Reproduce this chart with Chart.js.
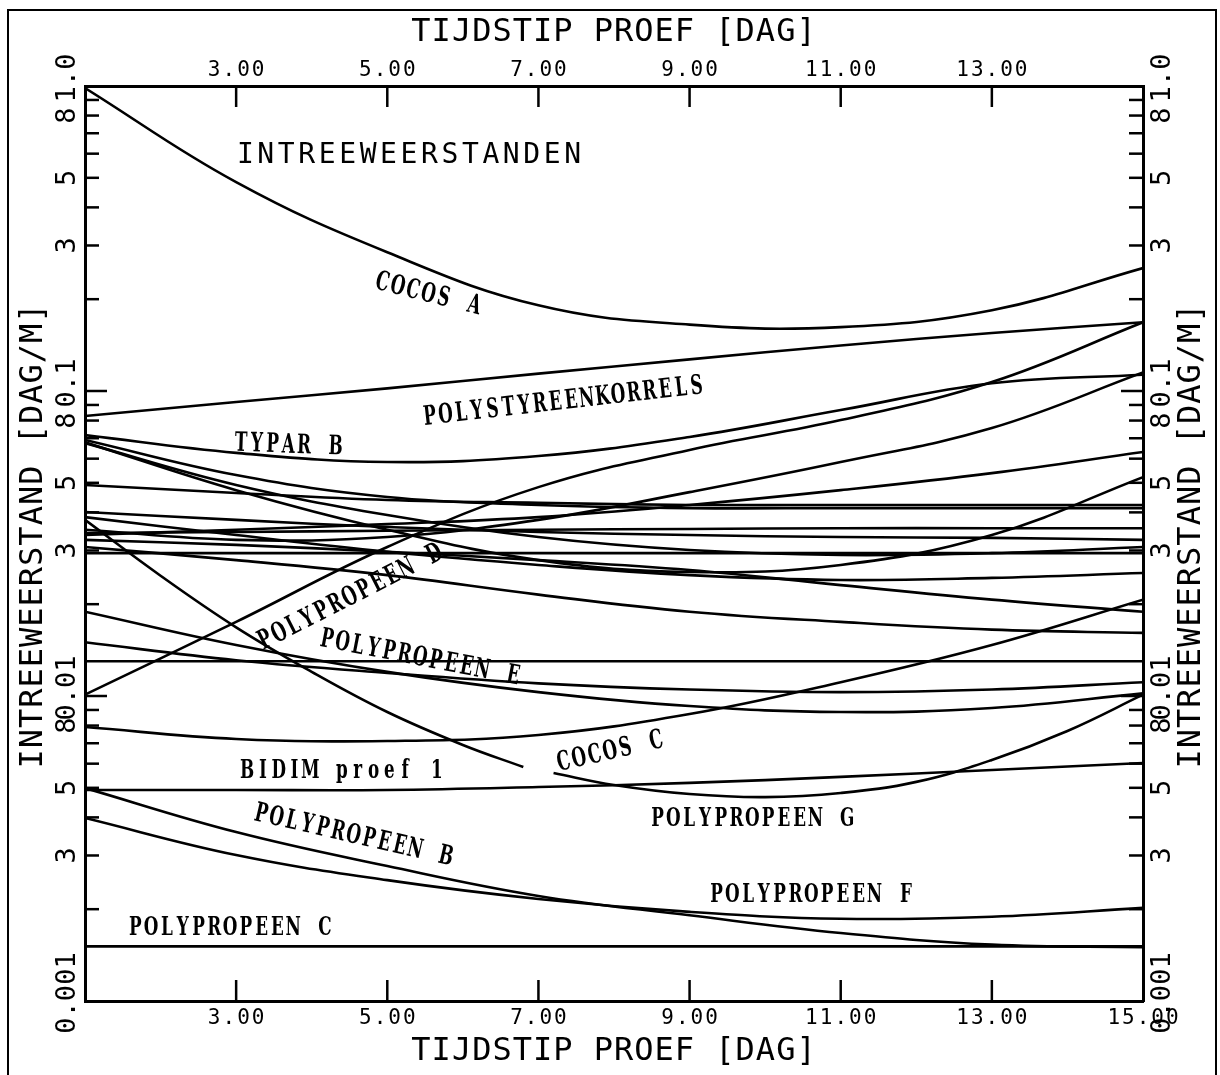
<!DOCTYPE html>
<html lang="nl">
<head>
<meta charset="UTF-8" />
<script src="https://cdn.jsdelivr.net/npm/chart.js@4.4.1/dist/chart.umd.min.js"></script>
<style>
  html, body { margin: 0; padding: 0; background: #fff; }
</style>
</head>
<body>
<canvas id="myChart" width="1220" height="1075"></canvas>
<script>
const days = [1, 3, 5, 7, 9, 11, 13, 15];
const daysCocosC = [1, 2, 3, 4, 5, 6, 6.8];      // test stops just before day 7
const daysPolyG = [7.2, 8, 9, 10, 11, 12, 13, 14, 15];

// intreeweerstand [dag/m]
const cocosA       = [0.985, 0.484, 0.285, 0.191, 0.165, 0.162, 0.184, 0.253];
const polystyreen  = [0.0828, 0.092, 0.102, 0.114, 0.127, 0.141, 0.155, 0.168];
const typarB       = [0.0717, 0.0627, 0.0585, 0.0612, 0.0707, 0.0866, 0.106, 0.113];
const polypropeenD = [0.0101, 0.0175, 0.0308, 0.0484, 0.0641, 0.0803, 0.107, 0.168];
const polypropeenE = [0.0189, 0.0147, 0.012, 0.0103, 0.00927, 0.00886, 0.00913, 0.0102];
const cocosC       = [0.0378, 0.0248, 0.0168, 0.012, 0.00886, 0.00691, 0.00585];
const polypropeenG = [0.00559, 0.00511, 0.00477, 0.00466, 0.00481, 0.00523, 0.00617, 0.00768, 0.0101];
const bidim1       = [0.00492, 0.00492, 0.00492, 0.00503, 0.00519, 0.00543, 0.00572, 0.00603];
const polypropeenB = [0.00499, 0.00358, 0.00277, 0.00221, 0.00191, 0.00167, 0.00153, 0.0015];
const polypropeenF = [0.00398, 0.00301, 0.00249, 0.00216, 0.00196, 0.00186, 0.00189, 0.00202];
const polypropeenC = [0.00151, 0.00151, 0.00151, 0.00151, 0.00151, 0.00151, 0.00151, 0.00151];
// curves without a label
const lijn01 = [0.013, 0.013, 0.013, 0.013, 0.013, 0.013, 0.013, 0.013];
const lijn02 = [0.00791, 0.00723, 0.00712, 0.00745, 0.00873, 0.0111, 0.0147, 0.0207];
const lijn03 = [0.015, 0.0131, 0.0119, 0.011, 0.0105, 0.0103, 0.0105, 0.0111];
const lijn04 = [0.0351, 0.0325, 0.0332, 0.0378, 0.0466, 0.0585, 0.0756, 0.115];
const lijn05 = [0.0691, 0.053, 0.0449, 0.0423, 0.0413, 0.0413, 0.0413, 0.0413];
const lijn06 = [0.0675, 0.0492, 0.0392, 0.0332, 0.0301, 0.029, 0.0294, 0.0308];
const lijn07 = [0.0492, 0.0463, 0.0439, 0.043, 0.0423, 0.0423, 0.0423, 0.0423];
const lijn08 = [0.0679, 0.0473, 0.0351, 0.0279, 0.0255, 0.0269, 0.0337, 0.0522];
const lijn09 = [0.0401, 0.0378, 0.0358, 0.0345, 0.0337, 0.0332, 0.033, 0.0325];
const lijn10 = [0.0386, 0.0337, 0.0297, 0.0269, 0.0249, 0.024, 0.0244, 0.0253];
const lijn11 = [0.0342, 0.0345, 0.0348, 0.0351, 0.0353, 0.0355, 0.0355, 0.0355];
const lijn12 = [0.0325, 0.0313, 0.0297, 0.0279, 0.0259, 0.0231, 0.0207, 0.0189];
const lijn13 = [0.0308, 0.0279, 0.0249, 0.0215, 0.0189, 0.0175, 0.0165, 0.0161];
const lijn14 = [0.0294, 0.0294, 0.0294, 0.0294, 0.0294, 0.0294, 0.0294, 0.0294];
const lijn15 = [0.0337, 0.0351, 0.0366, 0.0386, 0.0423, 0.0473, 0.0538, 0.0631];

// axis ticks
const xTickValues = [1, 3, 5, 7, 9, 11, 13, 15];
const xTickLabelsBottom = ["", "3.00", "5.00", "7.00", "9.00", "11.00", "13.00", "15.00"];
const xTickLabelsTop = ["", "3.00", "5.00", "7.00", "9.00", "11.00", "13.00", ""];
const yDecades = [0.001, 0.01, 0.1, 1.0];
const yDecadeLabels = ["0.001", "0.01", "0.1", "1.0"];
const yMinorSteps = [2, 3, 4, 5, 6, 7, 8, 9];
const yMinorLabels = ["", "3", "", "5", "", "", "8", ""];

// curve names written in the plot: [text, day, value, angle in degrees]
const curveLabels = [
  ["COCOS A", 5.54, 0.207, 14],
  ["POLYSTYREENKORRELS", 7.33, 0.092, -6.5],
  ["TYPAR B", 3.69, 0.0662, 2],
  ["POLYPROPEEN D", 4.51, 0.021, -27],
  ["POLYPROPEEN E", 5.43, 0.0133, 11],
  ["COCOS C", 7.95, 0.00655, -13],
  ["BIDIM proef 1", 4.4, 0.00568, 0],
  ["POLYPROPEEN B", 4.55, 0.00348, 13],
  ["POLYPROPEEN G", 9.83, 0.00395, 0],
  ["POLYPROPEEN F", 10.61, 0.00223, 0],
  ["POLYPROPEEN C", 2.92, 0.00174, 0],
];

const yTicks = [];
yDecades.forEach((d, i) => {
  yTicks.push({ value: d, label: yDecadeLabels[i], major: true });
  if (i < yDecades.length - 1) {
    yMinorSteps.forEach((m, j) => yTicks.push({ value: d * m, label: yMinorLabels[j], major: false }));
  }
});

const series = [
  [days, cocosA], [days, polystyreen], [days, typarB], [days, polypropeenD],
  [days, polypropeenE], [daysCocosC, cocosC], [daysPolyG, polypropeenG],
  [days, bidim1], [days, polypropeenB], [days, polypropeenF], [days, polypropeenC],
  [days, lijn01], [days, lijn02], [days, lijn03], [days, lijn04], [days, lijn05],
  [days, lijn06], [days, lijn07], [days, lijn08], [days, lijn09], [days, lijn10],
  [days, lijn11], [days, lijn12], [days, lijn13], [days, lijn14], [days, lijn15],
];

const plotterFont = '"DejaVu Sans Mono", monospace';
const typeFont = '"DejaVu Serif", serif';

// ticks, tick labels, titles and curve names (all placed through the chart scales)
const decorations = {
  id: "decorations",
  afterDraw(chart) {
    const { ctx, chartArea: a, scales } = chart;
    const xs = scales.x, ys = scales.y;
    const line = (x1, y1, x2, y2) => { ctx.beginPath(); ctx.moveTo(x1, y1); ctx.lineTo(x2, y2); ctx.stroke(); };
    const rotText = (txt, x, y, ang) => {
      ctx.save(); ctx.translate(x, y); ctx.rotate(ang); ctx.fillText(txt, 0, 0); ctx.restore();
    };
    ctx.save();
    ctx.strokeStyle = "#000";
    ctx.fillStyle = "#000";

    // frame round the whole figure
    ctx.lineWidth = 2;
    ctx.strokeRect(8, 10, 1208, 1080);

    // inward tick marks
    ctx.lineWidth = 2.5;
    xTickValues.forEach((v) => {
      if (v === xs.min || v === xs.max) return;
      const px = xs.getPixelForValue(v);
      line(px, a.bottom, px, a.bottom - 21);
      line(px, a.top, px, a.top + 21);
    });
    yTicks.forEach((t) => {
      const py = ys.getPixelForValue(t.value);
      if (py < a.top + 1 || py > a.bottom - 1) return;
      const len = t.major ? 22 : 14;
      line(a.left, py, a.left + len, py);
      line(a.right, py, a.right - len, py);
    });

    // x tick labels
    ctx.textAlign = "center";
    ctx.textBaseline = "middle";
    ctx.font = "21px " + plotterFont;
    ctx.letterSpacing = "2px";
    xTickValues.forEach((v, i) => {
      const px = xs.getPixelForValue(v);
      if (xTickLabelsBottom[i]) ctx.fillText(xTickLabelsBottom[i], px + 1, a.bottom + 18);
      if (xTickLabelsTop[i]) ctx.fillText(xTickLabelsTop[i], px + 1, a.top - 15);
    });

    // y tick labels, turned to read upwards
    ctx.font = "27px " + plotterFont;
    ctx.letterSpacing = "0px";
    yTicks.forEach((t) => {
      if (!t.label) return;
      const py = ys.getPixelForValue(t.value) + (t.major ? -8 : 0);
      rotText(t.label, a.left - 17, py, -Math.PI / 2);
      rotText(t.label, a.right + 20, py, -Math.PI / 2);
    });

    // axis titles
    ctx.font = "32px " + plotterFont;
    ctx.letterSpacing = "1px";
    const midX = (a.left + a.right) / 2;
    const midY = (a.top + a.bottom) / 2;
    ctx.fillText("TIJDSTIP PROEF [DAG]", midX, 1052);
    ctx.fillText("TIJDSTIP PROEF [DAG]", midX, 33);
    rotText("INTREEWEERSTAND [DAG/M]", 34, midY - 8, -Math.PI / 2);
    rotText("INTREEWEERSTAND [DAG/M]", 1192, midY - 8, -Math.PI / 2);

    // plot title
    ctx.font = "28px " + plotterFont;
    ctx.letterSpacing = "3.6px";
    ctx.textAlign = "left";
    ctx.textBaseline = "alphabetic";
    ctx.fillText("INTREEWEERSTANDEN", xs.getPixelForValue(3.01), ys.getPixelForValue(0.56));

    // curve names, typewriter style: fixed advance per character
    ctx.letterSpacing = "0px";
    ctx.font = "bold 24px " + typeFont;
    ctx.textAlign = "center";
    ctx.textBaseline = "middle";
    const advance = 15.8;
    curveLabels.forEach(([txt, d, v, ang]) => {
      ctx.save();
      ctx.translate(xs.getPixelForValue(d), ys.getPixelForValue(v));
      ctx.rotate((ang * Math.PI) / 180);
      const start = -((txt.length - 1) * advance) / 2;
      [...txt].forEach((ch, i) => {
        ctx.save();
        ctx.translate(start + i * advance, 0);
        ctx.scale(0.7, 1.12);
        ctx.fillText(ch, 0, 0);
        ctx.restore();
      });
      ctx.restore();
    });
    ctx.restore();
  },
};

const hiddenAxis = {
  ticks: { display: false },
  grid: { display: false, drawTicks: false },
  border: { display: true, color: "#000", width: 3 },
};

const ctx = document.getElementById("myChart").getContext("2d");
const myChart = new Chart(ctx, {
  type: "line",
  data: {
    datasets: series.map(([xv, yv]) => ({
      data: xv.map((d, i) => ({ x: d, y: yv[i] })),
      borderColor: "#000",
      borderWidth: 2.6,
      pointRadius: 0,
      fill: false,
      tension: 0.4,
    })),
  },
  options: {
    responsive: false,
    animation: false,
    layout: { padding: { left: 85, right: 77, top: 86, bottom: 74 } },
    plugins: { legend: { display: false }, tooltip: { enabled: false } },
    scales: {
      x: {
        type: "linear", position: "bottom", min: 1, max: 15,
        afterBuildTicks: (s) => { s.ticks = xTickValues.map((v) => ({ value: v })); },
        ...hiddenAxis,
      },
      x2: {
        type: "linear", position: "top", min: 1, max: 15,
        afterBuildTicks: (s) => { s.ticks = xTickValues.map((v) => ({ value: v })); },
        ...hiddenAxis,
      },
      y: {
        type: "logarithmic", position: "left", min: 0.001, max: 1,
        afterBuildTicks: (s) => { s.ticks = yTicks.map((t) => ({ value: t.value })); },
        ...hiddenAxis,
      },
      y2: {
        type: "logarithmic", position: "right", min: 0.001, max: 1,
        afterBuildTicks: (s) => { s.ticks = yTicks.map((t) => ({ value: t.value })); },
        ...hiddenAxis,
      },
    },
  },
  plugins: [decorations],
});
</script>
</body>
</html>
